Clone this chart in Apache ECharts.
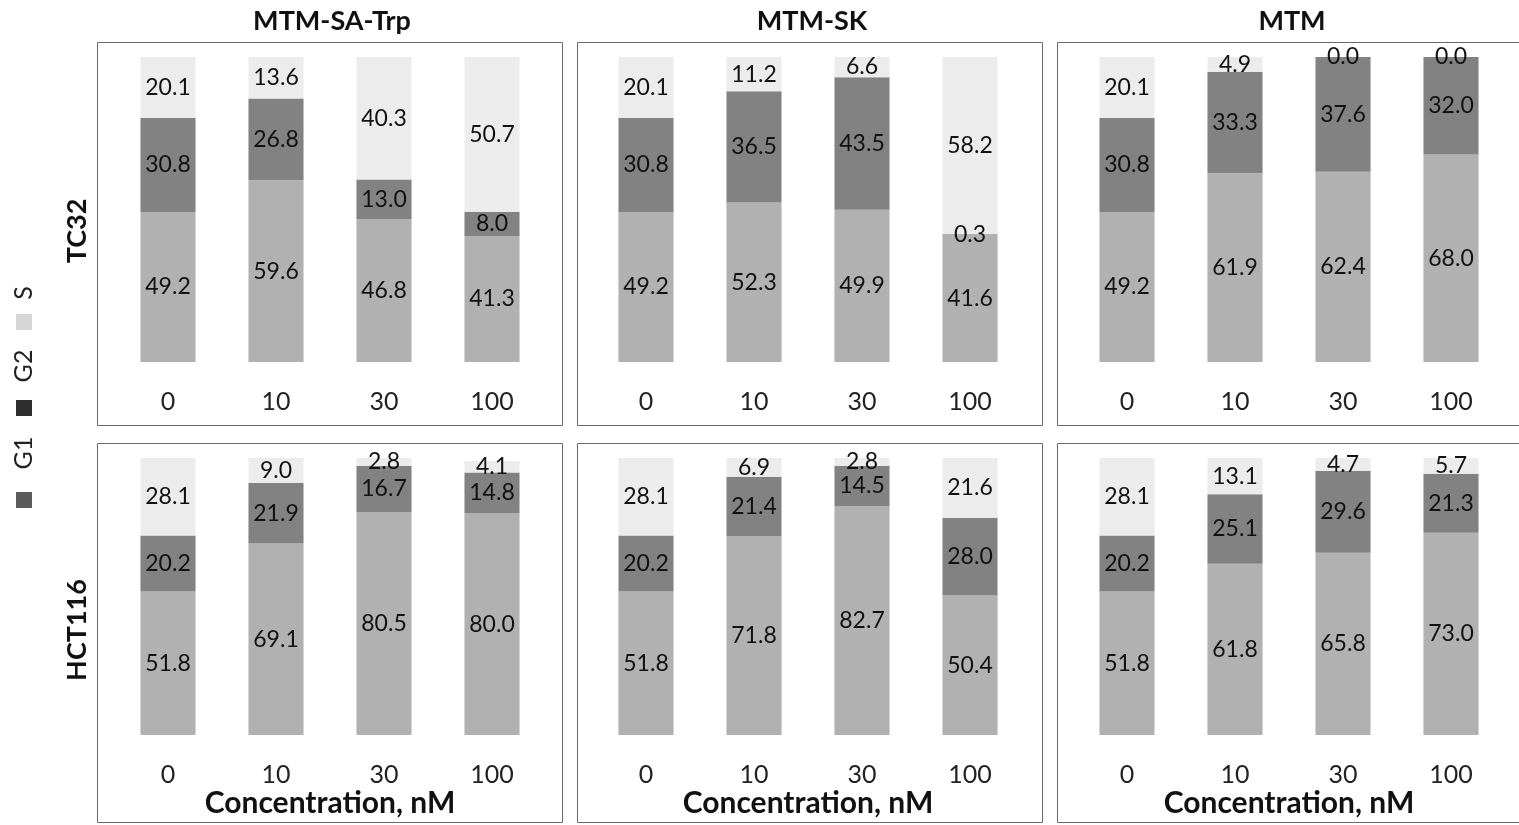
<!DOCTYPE html>
<html lang="en">
<head>
    <meta charset="UTF-8">
    <title>Cell cycle distribution</title>
    <script src="https://cdn.jsdelivr.net/npm/echarts@6.0.0/dist/echarts.min.js"></script>
    <style>
        html, body, #chart {
            height: 100%;
            padding: 0;
            margin: 0;
            background: #fff;
        }
    </style>
</head>
<body>
<div id="chart"></div>
<script>
    // concentrations (nM)
    var categories = ["0", "10", "30", "100"];
    var drugs = ["MTM-SA-Trp", "MTM-SK", "MTM"];
    var cellLines = ["TC32", "HCT116"];
    var phases = ["G1", "G2", "S"];

    // TC32
    var tc32SaTrp = {G1: [49.2, 59.6, 46.8, 41.3], G2: [30.8, 26.8, 13.0, 8.0], S: [20.1, 13.6, 40.3, 50.7]};
    var tc32Sk = {G1: [49.2, 52.3, 49.9, 41.6], G2: [30.8, 36.5, 43.5, 0.3], S: [20.1, 11.2, 6.6, 58.2]};
    var tc32Mtm = {G1: [49.2, 61.9, 62.4, 68.0], G2: [30.8, 33.3, 37.6, 32.0], S: [20.1, 4.9, 0.0, 0.0]};
    // HCT116
    var hctSaTrp = {G1: [51.8, 69.1, 80.5, 80.0], G2: [20.2, 21.9, 16.7, 14.8], S: [28.1, 9.0, 2.8, 4.1]};
    var hctSk = {G1: [51.8, 71.8, 82.7, 50.4], G2: [20.2, 21.4, 14.5, 28.0], S: [28.1, 6.9, 2.8, 21.6]};
    var hctMtm = {G1: [51.8, 61.8, 65.8, 73.0], G2: [20.2, 25.1, 29.6, 21.3], S: [28.1, 13.1, 4.7, 5.7]};

    var panels = [
        [tc32SaTrp, tc32Sk, tc32Mtm],
        [hctSaTrp, hctSk, hctMtm]
    ];

    var colors = {G1: "#b1b1b1", G2: "#828282", S: "#ececec"};
    var font = "Lato";

    // layout
    var boxLeft = [97, 577, 1057];
    var boxWidth = [465, 465, 470];
    var boxTop = [42, 443];
    var boxHeight = [383, 379];
    var gridLeft = [114, 592, 1073];
    var gridTop = [57, 458];
    var gridHeight = [305, 277];

    var myChart = echarts.init(document.getElementById("chart"));

    var grids = [], xAxes = [], yAxes = [], series = [], graphic = [];

    for (var r = 0; r < 2; r++) {
        for (var c = 0; c < 3; c++) {
            var idx = grids.length;
            grids.push({left: gridLeft[c], top: gridTop[r], width: 432, height: gridHeight[r]});
            xAxes.push({
                type: "category",
                gridIndex: idx,
                data: categories,
                axisLine: {show: false},
                axisTick: {show: false},
                axisLabel: {margin: 27, fontFamily: font, fontSize: 25, color: "#222"},
                name: r === 1 ? "Concentration, nM" : "",
                nameLocation: "middle",
                nameGap: 53,
                nameTextStyle: {fontFamily: font, fontWeight: "bold", fontSize: 30, color: "#111"}
            });
            yAxes.push({
                type: "value",
                gridIndex: idx,
                min: 0,
                max: 100,
                show: false
            });
            phases.forEach(function (p) {
                series.push({
                    type: "bar",
                    name: p,
                    xAxisIndex: idx,
                    yAxisIndex: idx,
                    stack: "panel" + idx,
                    barWidth: "51%",
                    data: panels[r][c][p],
                    itemStyle: {color: colors[p]},
                    label: {
                        show: true,
                        position: "inside",
                        fontFamily: font,
                        fontSize: 23,
                        color: "#111",
                        formatter: function (d) {
                            return d.value.toFixed(1);
                        }
                    }
                });
            });
            graphic.push({
                type: "rect",
                z: -1,
                shape: {x: boxLeft[c] + 0.5, y: boxTop[r] + 0.5, width: boxWidth[c], height: boxHeight[r]},
                style: {fill: "none", stroke: "#6a6a6a", lineWidth: 1}
            });
        }
    }

    // column titles
    drugs.forEach(function (d, c) {
        graphic.push({
            type: "text",
            x: boxLeft[c] + 235,
            y: 21,
            style: {text: d, align: "center", verticalAlign: "middle", fontFamily: font, fontWeight: "bold", fontSize: 27, fill: "#111"}
        });
    });

    // row labels
    var rowLabelY = [231, 630];
    cellLines.forEach(function (l, r) {
        graphic.push({
            type: "text",
            x: 77,
            y: rowLabelY[r],
            rotation: Math.PI / 2,
            style: {text: l, align: "center", verticalAlign: "middle", fontFamily: font, fontWeight: "bold", fontSize: 27, fill: "#111"}
        });
    });

    // rotated legend: marker and text centres measured upward from y = 500
    var markerPos = {G1: 0, G2: 92, S: 178};
    var textPos = {G1: 47, G2: 134, S: 207};
    var markerFill = {G1: "#5c5c5c", G2: "#2e2e2e", S: "#d6d6d6"};
    var legendItems = [];
    phases.forEach(function (p) {
        legendItems.push({
            type: "rect",
            shape: {x: markerPos[p] - 8, y: -8, width: 16, height: 16},
            style: {fill: markerFill[p]}
        });
        legendItems.push({
            type: "text",
            x: textPos[p],
            y: 0,
            style: {text: p, align: "center", verticalAlign: "middle", fontFamily: font, fontSize: 25, fill: "#222"}
        });
    });
    graphic.push({
        type: "group",
        x: 24,
        y: 500,
        rotation: Math.PI / 2,
        children: legendItems
    });

    myChart.setOption({
        animation: false,
        backgroundColor: "#fff",
        grid: grids,
        xAxis: xAxes,
        yAxis: yAxes,
        series: series,
        graphic: graphic
    });
</script>
</body>
</html>
